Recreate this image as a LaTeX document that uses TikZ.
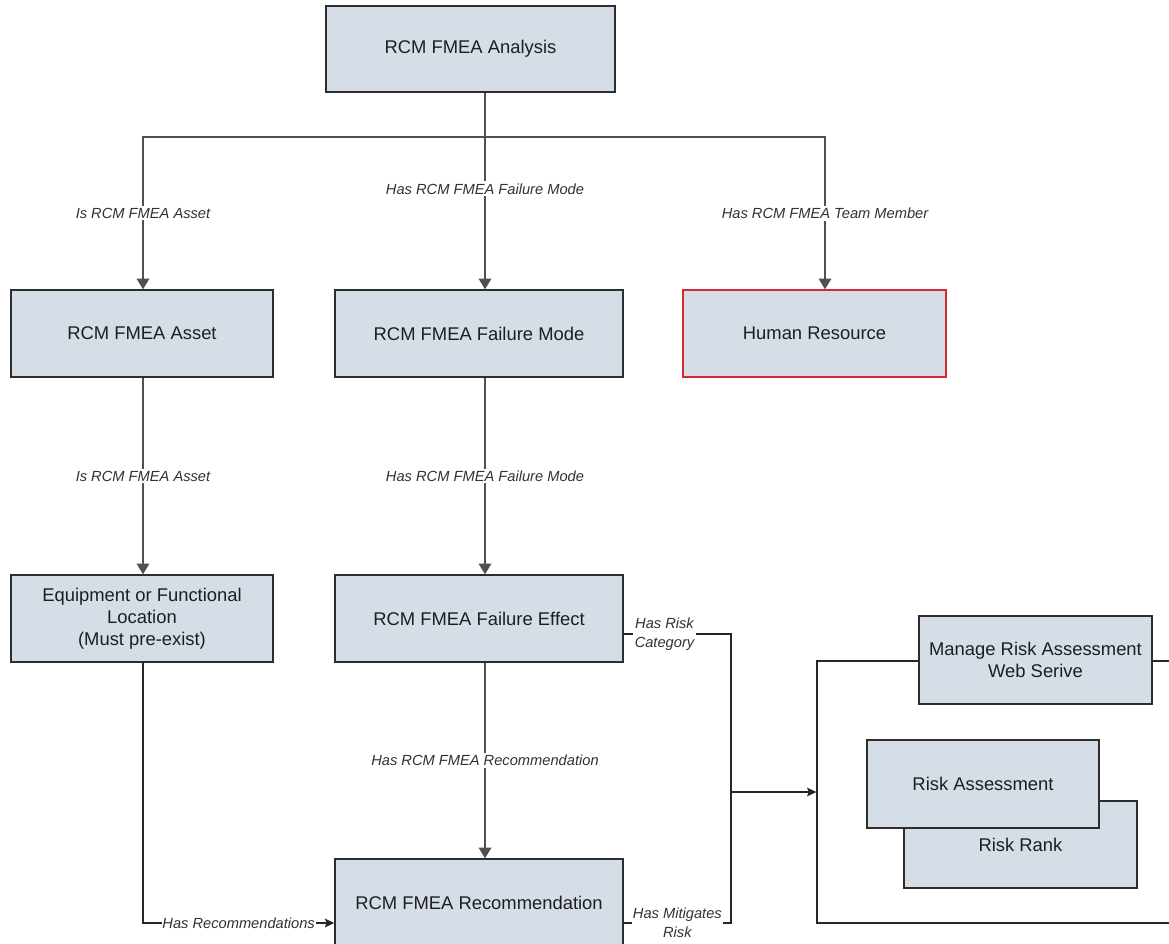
\documentclass[tikz,border=0pt]{standalone}
\usepackage{fontspec}
\setmainfont{Liberation Sans}
\usetikzlibrary{arrows.meta,calc}
\definecolor{boxfill}{RGB}{213,222,231}
\definecolor{boxline}{RGB}{45,45,45}
\definecolor{connc}{RGB}{80,80,80}
\definecolor{hrred}{RGB}{215,40,45}
\definecolor{txt}{RGB}{30,30,30}
\definecolor{lbltxt}{RGB}{50,50,50}
\begin{document}
\begin{tikzpicture}[x=0.75pt,y=-0.75pt,
 box/.style={draw=boxline, line width=1.1pt, fill=boxfill, inner sep=0pt, align=center, text=txt, font=\fontsize{13.8}{16.5}\selectfont},
 conn/.style={draw=connc, line width=1pt, -{Triangle[width=9.5pt,length=8pt]}},
 plainline/.style={draw=connc, line width=1pt},
 blk/.style={draw=black!85, line width=0.9pt},
 blkarrow/.style={blk, -{Stealth[width=6.5pt,length=7pt,inset=1.2pt]}},
 lbl/.style={fill=white, inner sep=1.5pt, text=lbltxt, font=\fontsize{11}{13}\selectfont\itshape},
 lbl2/.style={fill=white, inner sep=1pt, align=center, text=lbltxt, font=\fontsize{11}{14}\selectfont\itshape},
]
\useasboundingbox (0,0) rectangle (1169,944);
\clip (0,0) rectangle (1169,944);
\fill[white] (0,0) rectangle (1169,944);

% helper coordinates
\coordinate (xa) at (143,0);
\coordinate (xm) at (485,0);
\coordinate (xh) at (825,0);
\coordinate (xb) at (731,0);
\coordinate (bar) at (485,137);
\coordinate (y634) at (0,634);
\coordinate (y792) at (0,792);
\coordinate (y923) at (0,923);

% group container and its members
\node[draw=black!85, line width=0.9pt, fill=white, minimum width=279.75pt, minimum height=196.5pt, inner sep=0pt] (grp) at (1003.5,792) {};
\node[box, minimum width=174.75pt, minimum height=66pt] (manage) at (1035.5,660) {Manage Risk Assessment\\Web Serive};
\node[box, minimum width=174.75pt, minimum height=65.25pt] (rr) at (1020.5,844.5) {Risk Rank};
\node[box, minimum width=174pt, minimum height=66pt] (ra) at (983,784) {Risk Assessment};

% main boxes
\node[box, minimum width=216.75pt, minimum height=64.5pt] (ana) at (470.5,49) {RCM FMEA Analysis};
\node[box, minimum width=196.5pt, minimum height=65.25pt] (asset) at (142,333.5) {RCM FMEA Asset};
\node[box, minimum width=216pt, minimum height=65.25pt] (fmode) at (479,333.5) {RCM FMEA Failure Mode};
\node[box, draw=hrred, minimum width=197.25pt, minimum height=65.25pt] (hr) at (814.5,333.5) {Human Resource};
\node[box, minimum width=196.5pt, minimum height=65.25pt] (equip) at (142,618.5) {Equipment or Functional\\Location\\(Must pre-exist)};
\node[box, minimum width=216pt, minimum height=65.25pt] (feff) at (479,618.5) {RCM FMEA Failure Effect};
\node[box, minimum width=216pt, minimum height=65.25pt] (rec) at (479,902.5) {RCM FMEA Recommendation};

% tree connectors
\draw[plainline] (ana.south -| xm) -- (bar);
\draw[conn] (bar) -- node[lbl,pos=0.34]{Has RCM FMEA Failure Mode} (fmode.north -| xm);
\draw[conn] (bar) -| node[lbl,pos=0.75]{Is RCM FMEA Asset} (asset.north -| xa);
\draw[conn] (bar) -| node[lbl,pos=0.75]{Has RCM FMEA Team Member} (hr.north -| xh);
\draw[conn] (asset.south -| xa) -- node[lbl]{Is RCM FMEA Asset} (equip.north -| xa);
\draw[conn] (fmode.south -| xm) -- node[lbl]{Has RCM FMEA Failure Mode} (feff.north -| xm);
\draw[conn] (feff.south -| xm) -- node[lbl]{Has RCM FMEA Recommendation} (rec.north -| xm);

% lower connectors
\draw[blkarrow] (equip.south -| xa) |- node[lbl,pos=0.75,inner sep=0.5pt]{Has Recommendations} (rec.west |- y923);
\draw[blk] (feff.east |- y634) -- node[lbl2,pos=0.38]{Has Risk\\Category} (xb |- y634) -- (xb |- y923) -- node[lbl2]{Has Mitigates\\Risk} (rec.east |- y923);
\draw[blkarrow] (xb |- y792) -- (grp.west);
\end{tikzpicture}
\end{document}
